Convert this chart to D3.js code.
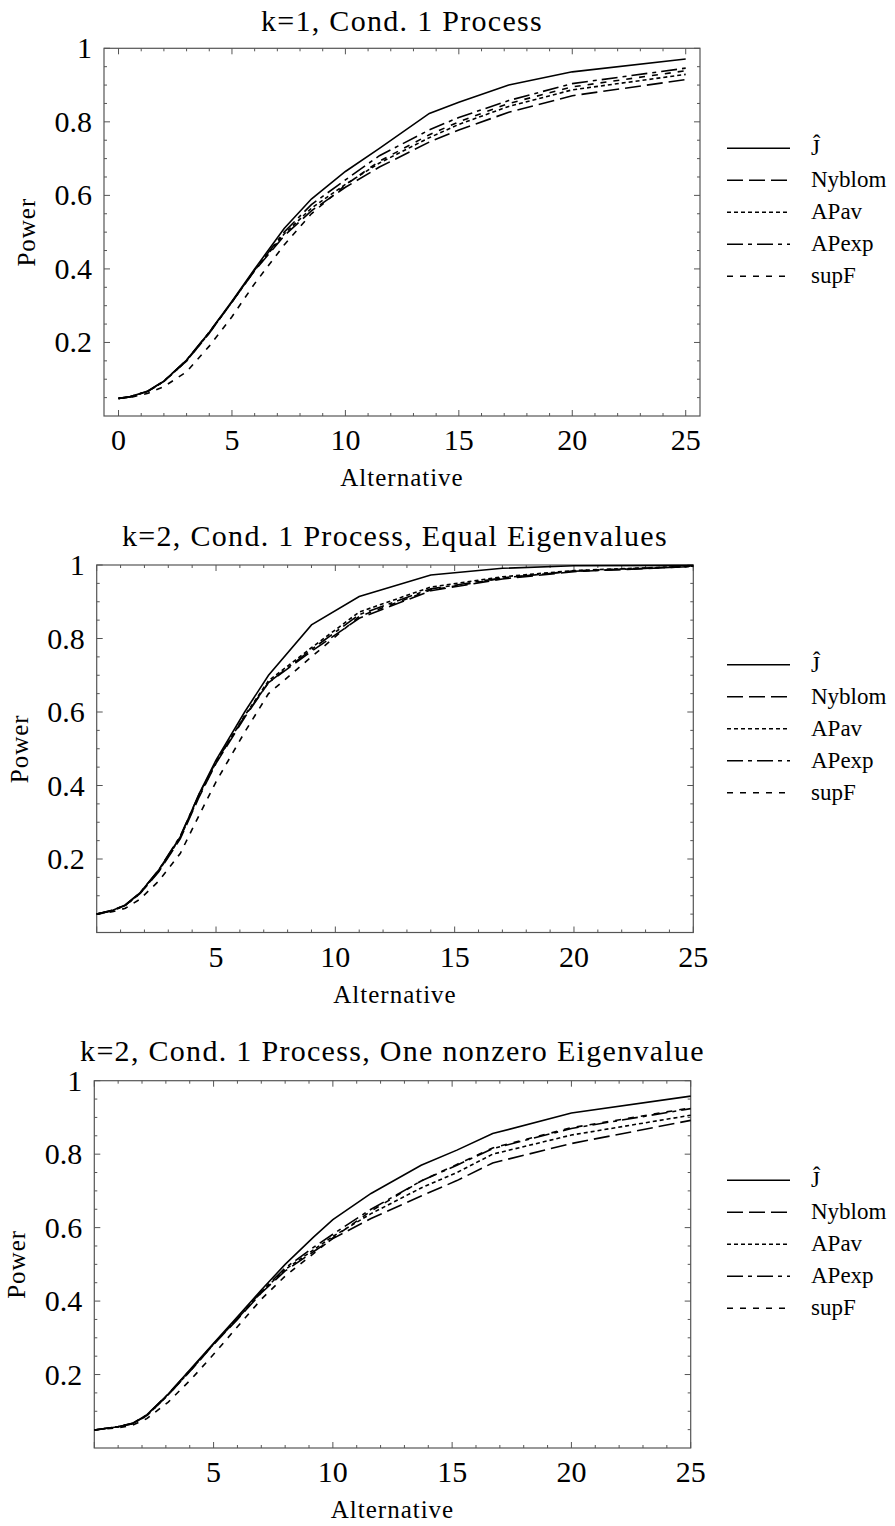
<!DOCTYPE html>
<html><head><meta charset="utf-8">
<script src="https://cdn.jsdelivr.net/npm/d3@7"></script>
<style>
body{margin:0;background:#fff;}
text{font-family:"Liberation Serif","Times New Roman",serif;fill:#000;}
</style></head>
<body><svg id="c" width="895" height="1526"></svg>
<script>
// ---------- DATA ----------
const seriesNames = ["Ĵ", "Nyblom", "APav", "APexp", "supF"];
const titles = ["k=1, Cond. 1 Process", "k=2, Cond. 1 Process, Equal Eigenvalues", "k=2, Cond. 1 Process, One nonzero Eigenvalue"];
const xTickValues = [0, 5, 10, 15, 20, 25];
const yTickValues = [0.2, 0.4, 0.6, 0.8, 1];
const yTickLabels = ["0.2", "0.4", "0.6", "0.8", "1"];

// Panel 1: k=1
const k1_alt    = [0, 0.5, 1.3, 2, 3, 4, 5, 6, 7.3, 8.5, 10, 11.5, 13.7, 15, 17.2, 20, 25];
const k1_J      = [.048,.052,.068,.095,.152,.228,.312,.400,.510,.590,.665,.728,.823,.853,.900,.936,.971];
const k1_Nyblom = [.048,.052,.067,.094,.150,.225,.310,.395,.490,.558,.622,.677,.745,.778,.826,.871,.915];
const k1_APav   = [.048,.052,.067,.094,.150,.226,.310,.396,.495,.565,.630,.688,.757,.793,.842,.887,.929];
const k1_APexp  = [.048,.052,.068,.095,.152,.228,.310,.397,.500,.575,.642,.708,.778,.812,.858,.904,.946];
const k1_supF   = [.048,.050,.062,.080,.120,.190,.270,.360,.465,.550,.628,.693,.765,.800,.850,.895,.939];

// Panel 2: k=2, equal eigenvalues
const eq_alt    = [0, 0.7, 1.2, 1.8, 2.6, 3.5, 4.3, 5, 6.2, 7.2, 9, 11, 14, 17, 20, 25];
const eq_J      = [.050,.061,.075,.107,.170,.260,.379,.469,.600,.700,.837,.914,.973,.991,.998,.999];
const eq_Nyblom = [.050,.060,.074,.105,.165,.255,.370,.460,.585,.680,.765,.855,.930,.962,.982,.996];
const eq_APav   = [.050,.060,.074,.105,.167,.258,.373,.463,.590,.685,.775,.872,.940,.968,.985,.997];
const eq_APexp  = [.050,.061,.075,.107,.170,.262,.377,.465,.588,.680,.770,.865,.935,.965,.983,.996];
const eq_supF   = [.050,.057,.066,.090,.140,.215,.320,.410,.545,.650,.750,.860,.932,.964,.984,.997];

// Panel 3: k=2, one nonzero eigenvalue
const one_alt    = [0, 1, 1.6, 2.2, 3.1, 4.1, 5, 6, 7, 8, 9.2, 10, 11.6, 13.7, 15.2, 16.7, 20, 25];
const one_J      = [.049,.058,.067,.090,.147,.220,.285,.357,.430,.500,.575,.622,.693,.770,.811,.856,.912,.958];
const one_Nyblom = [.049,.058,.066,.088,.145,.215,.282,.350,.422,.482,.535,.570,.625,.686,.728,.776,.829,.892];
const one_APav   = [.049,.058,.066,.088,.145,.216,.283,.352,.424,.486,.540,.576,.638,.708,.750,.800,.852,.906];
const one_APexp  = [.049,.058,.067,.090,.147,.218,.283,.352,.426,.490,.547,.582,.650,.727,.770,.815,.870,.924];
const one_supF   = [.049,.055,.062,.080,.125,.190,.255,.330,.405,.468,.530,.572,.645,.727,.772,.817,.872,.926];

// ---------- LAYOUT / STYLE ----------
const dashes = [null, "16,6", "4,3", "16,5,4,5", "6,7"];
const panels = [
  {title: titles[0], alt: k1_alt, ys: [k1_J,k1_Nyblom,k1_APav,k1_APexp,k1_supF],
   left:104, right:700, top:48.3, bottom:416, xd:[-0.64,25.63], showZero:true, titleY:31},
  {title: titles[1], alt: eq_alt, ys: [eq_J,eq_Nyblom,eq_APav,eq_APexp,eq_supF],
   left:96.7, right:693.3, top:565, bottom:932.5, xd:[0,25], showZero:false, titleY:546},
  {title: titles[2], alt: one_alt, ys: [one_J,one_Nyblom,one_APav,one_APexp,one_supF],
   left:94.3, right:690.7, top:1080.7, bottom:1448, xd:[0,25], showZero:false, titleY:1061}
];

const svg = d3.select("#c");

panels.forEach(p => {
  const g = svg.append("g");
  const x = d3.scaleLinear().domain(p.xd).range([p.left, p.right]);
  const y = d3.scaleLinear().domain([0, 1]).range([p.bottom, p.top]);
  const frameColor = "#555";

  g.append("rect").attr("x", p.left).attr("y", p.top)
    .attr("width", p.right - p.left).attr("height", p.bottom - p.top)
    .attr("fill", "none").attr("stroke", frameColor).attr("stroke-width", 1.2);

  const xMinor = d3.range(0, 26, 1), yMinor = d3.range(0.05, 1.0001, 0.05);
  const tickSet = (vals, len) => {
    vals.forEach(v => {
      const xp = x(v);
      g.append("line").attr("x1", xp).attr("x2", xp).attr("y1", p.bottom).attr("y2", p.bottom - len).attr("stroke", frameColor);
      g.append("line").attr("x1", xp).attr("x2", xp).attr("y1", p.top).attr("y2", p.top + len).attr("stroke", frameColor);
    });
  };
  tickSet(xMinor.filter(v => v % 5 !== 0), 3);
  tickSet(xTickValues, 6);
  const ytickSet = (vals, len) => {
    vals.forEach(v => {
      const yp = y(v);
      g.append("line").attr("y1", yp).attr("y2", yp).attr("x1", p.left).attr("x2", p.left + len).attr("stroke", frameColor);
      g.append("line").attr("y1", yp).attr("y2", yp).attr("x1", p.right).attr("x2", p.right - len).attr("stroke", frameColor);
    });
  };
  ytickSet(yMinor.filter(v => Math.abs(v*5 - Math.round(v*5)) > 1e-6), 3);
  ytickSet(yTickValues, 6);

  xTickValues.filter(v => p.showZero || v !== 0).forEach(v => {
    g.append("text").attr("x", x(v)).attr("y", p.bottom + 34)
      .attr("text-anchor", "middle").attr("font-size", 30).text(v);
  });
  yTickValues.forEach((v, i) => {
    g.append("text").attr("x", p.left - 12).attr("y", y(v) + 10)
      .attr("text-anchor", "end").attr("font-size", 30).text(yTickLabels[i]);
  });

  g.append("text").attr("x", (p.left + p.right) / 2).attr("y", p.titleY)
    .attr("text-anchor", "middle").attr("font-size", 30).attr("letter-spacing", 1.3).text(p.title);
  g.append("text").attr("x", (p.left + p.right) / 2).attr("y", p.bottom + 70)
    .attr("text-anchor", "middle").attr("font-size", 25).attr("letter-spacing", 1).text("Alternative");
  g.append("text").attr("transform", `translate(${p.left - 69},${(p.top + p.bottom) / 2}) rotate(-90)`)
    .attr("text-anchor", "middle").attr("font-size", 25).attr("letter-spacing", 1).text("Power");

  const line = d3.line().x(d => x(d[0])).y(d => y(d[1]));
  p.ys.forEach((vals, i) => {
    const data = p.alt.map((a, j) => [a, vals[j]]);
    g.append("path").datum(data).attr("d", line)
      .attr("fill", "none").attr("stroke", "#000").attr("stroke-width", 1.6)
      .attr("stroke-dasharray", dashes[i]);
  });

  const cy = (p.top + p.bottom) / 2 - 84;
  seriesNames.forEach((name, i) => {
    const ly = cy + i * 32;
    g.append("line").attr("x1", 727).attr("x2", 790).attr("y1", ly).attr("y2", ly)
      .attr("stroke", "#000").attr("stroke-width", 1.5).attr("stroke-dasharray", dashes[i]);
    g.append("text").attr("x", 811).attr("y", ly + 7).attr("font-size", 23).text(name);
  });
});
</script></body></html>
